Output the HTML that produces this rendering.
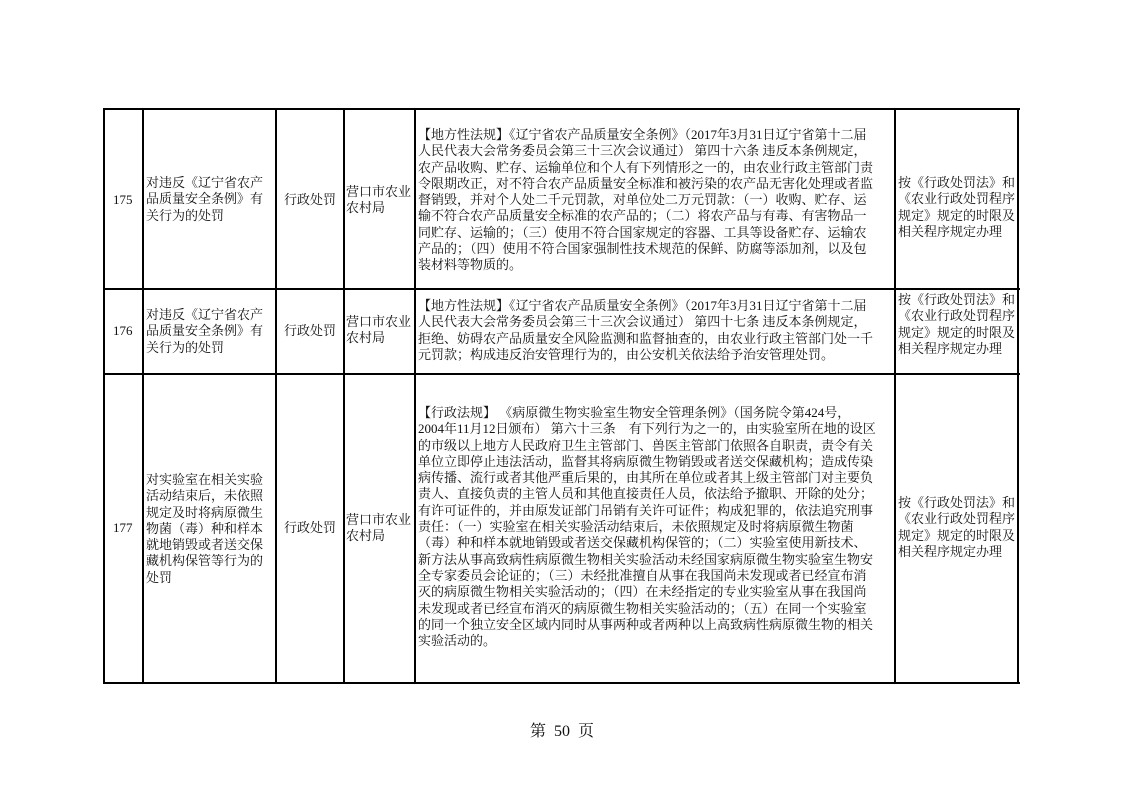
<!DOCTYPE html>
<html><head><meta charset="utf-8"><style>
body{margin:0;width:1122px;height:793px;background:#fff;position:relative;overflow:hidden;font-family:"Liberation Serif","Noto Serif CJK SC",serif;color:#111}
.l{position:absolute;background:#000}
.t{position:absolute;font-size:13px;line-height:16.3px;white-space:nowrap}
</style></head><body>
<div class="l" style="left:103px;top:108px;width:917px;height:2px"></div>
<div class="l" style="left:103px;top:288px;width:917px;height:2px"></div>
<div class="l" style="left:103px;top:373px;width:917px;height:2px"></div>
<div class="l" style="left:103px;top:682px;width:917px;height:2px"></div>
<div class="l" style="left:103px;top:108px;width:2px;height:576px"></div>
<div class="l" style="left:142px;top:108px;width:2px;height:576px"></div>
<div class="l" style="left:275px;top:108px;width:2px;height:576px"></div>
<div class="l" style="left:343px;top:108px;width:2px;height:576px"></div>
<div class="l" style="left:414px;top:108px;width:2px;height:576px"></div>
<div class="l" style="left:894px;top:108px;width:2px;height:576px"></div>
<div class="l" style="left:1017px;top:108px;width:2px;height:576px"></div>

<div class="t" style="left:113px;top:192px">175</div>
<div class="t" style="left:146px;top:175px">对违反《辽宁省农产<br>品质量安全条例》有<br>关行为的处罚</div>
<div class="t" style="left:284px;top:192px">行政处罚</div>
<div class="t" style="left:346px;top:184px">营口市农业<br>农村局</div>
<div class="t" style="left:418px;top:127px">【地方性法规】《辽宁省农产品质量安全条例》（2017年3月31日辽宁省第十二届<br>人民代表大会常务委员会第三十三次会议通过） 第四十六条 违反本条例规定，<br>农产品收购、贮存、运输单位和个人有下列情形之一的，由农业行政主管部门责<br>令限期改正，对不符合农产品质量安全标准和被污染的农产品无害化处理或者监<br>督销毁，并对个人处二千元罚款，对单位处二万元罚款：（一）收购、贮存、运<br>输不符合农产品质量安全标准的农产品的；（二）将农产品与有毒、有害物品一<br>同贮存、运输的；（三）使用不符合国家规定的容器、工具等设备贮存、运输农<br>产品的；（四）使用不符合国家强制性技术规范的保鲜、防腐等添加剂，以及包<br>装材料等物质的。</div>
<div class="t" style="left:898px;top:175px">按《行政处罚法》和<br>《农业行政处罚程序<br>规定》规定的时限及<br>相关程序规定办理</div>

<div class="t" style="left:113px;top:323px">176</div>
<div class="t" style="left:146px;top:307px">对违反《辽宁省农产<br>品质量安全条例》有<br>关行为的处罚</div>
<div class="t" style="left:284px;top:323px">行政处罚</div>
<div class="t" style="left:346px;top:314px">营口市农业<br>农村局</div>
<div class="t" style="left:418px;top:298px">【地方性法规】《辽宁省农产品质量安全条例》（2017年3月31日辽宁省第十二届<br>人民代表大会常务委员会第三十三次会议通过） 第四十七条 违反本条例规定，<br>拒绝、妨碍农产品质量安全风险监测和监督抽查的，由农业行政主管部门处一千<br>元罚款；构成违反治安管理行为的，由公安机关依法给予治安管理处罚。</div>
<div class="t" style="left:898px;top:292px">按《行政处罚法》和<br>《农业行政处罚程序<br>规定》规定的时限及<br>相关程序规定办理</div>

<div class="t" style="left:113px;top:520px">177</div>
<div class="t" style="left:146px;top:472px">对实验室在相关实验<br>活动结束后，未依照<br>规定及时将病原微生<br>物菌（毒）种和样本<br>就地销毁或者送交保<br>藏机构保管等行为的<br>处罚</div>
<div class="t" style="left:284px;top:520px">行政处罚</div>
<div class="t" style="left:346px;top:512px">营口市农业<br>农村局</div>
<div class="t" style="left:418px;top:405px">【行政法规】 《病原微生物实验室生物安全管理条例》（国务院令第424号，<br>2004年11月12日颁布） 第六十三条　有下列行为之一的，由实验室所在地的设区<br>的市级以上地方人民政府卫生主管部门、兽医主管部门依照各自职责，责令有关<br>单位立即停止违法活动，监督其将病原微生物销毁或者送交保藏机构；造成传染<br>病传播、流行或者其他严重后果的，由其所在单位或者其上级主管部门对主要负<br>责人、直接负责的主管人员和其他直接责任人员，依法给予撤职、开除的处分；<br>有许可证件的，并由原发证部门吊销有关许可证件；构成犯罪的，依法追究刑事<br>责任：（一）实验室在相关实验活动结束后，未依照规定及时将病原微生物菌<br>（毒）种和样本就地销毁或者送交保藏机构保管的；（二）实验室使用新技术、<br>新方法从事高致病性病原微生物相关实验活动未经国家病原微生物实验室生物安<br>全专家委员会论证的；（三）未经批准擅自从事在我国尚未发现或者已经宣布消<br>灭的病原微生物相关实验活动的；（四）在未经指定的专业实验室从事在我国尚<br>未发现或者已经宣布消灭的病原微生物相关实验活动的；（五）在同一个实验室<br>的同一个独立安全区域内同时从事两种或者两种以上高致病性病原微生物的相关<br>实验活动的。</div>
<div class="t" style="left:898px;top:495px">按《行政处罚法》和<br>《农业行政处罚程序<br>规定》规定的时限及<br>相关程序规定办理</div>

<div class="t" style="left:530px;top:723px;font-size:16px;line-height:18px">第&nbsp;&nbsp;50&nbsp;&nbsp;页</div>
</body></html>
